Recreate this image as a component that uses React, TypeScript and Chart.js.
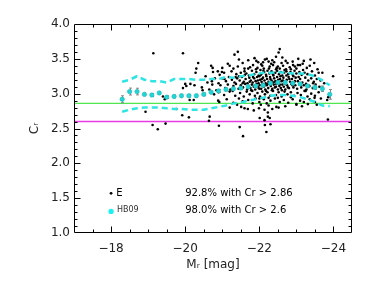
import React, { useEffect, useRef } from 'react';
import { Chart, registerables } from 'chart.js';

Chart.register(...registerables);

// ---- axis ticks ----
const xMajorTicks = [-18, -20, -22, -24];
const yMajorTicks = [1.0, 1.5, 2.0, 2.5, 3.0, 3.5, 4.0];

// ---- reference lines ----
const greenLevel = 2.86;
const magentaLevel = 2.6;

// ---- HB09 median relation (binned) ----
const binMag = [-18.3, -18.5, -18.7, -18.9, -19.1, -19.3, -19.5, -19.7, -19.9, -20.1, -20.3, -20.5, -20.7, -20.9, -21.1, -21.3, -21.5, -21.7, -21.9, -22.1, -22.3, -22.5, -22.7, -22.9, -23.1, -23.3, -23.5, -23.7, -23.9];
const binMedian = [2.92, 3.03, 3.03, 2.99, 2.98, 3.01, 2.95, 2.96, 2.97, 2.97, 2.97, 2.99, 3.02, 3.04, 3.06, 3.07, 3.08, 3.10, 3.11, 3.12, 3.15, 3.16, 3.16, 3.15, 3.14, 3.11, 3.09, 3.07, 2.99];
const binErr = [0.05, 0.05, 0.048, 0.02, 0.02, 0.02, 0.02, 0.02, 0.02, 0.02, 0.02, 0.02, 0.02, 0.02, 0.02, 0.02, 0.02, 0.02, 0.02, 0.02, 0.02, 0.02, 0.02, 0.02, 0.02, 0.02, 0.03, 0.04, 0.07];
const binUpper = [3.17, 3.20, 3.25, 3.20, 3.18, 3.18, 3.16, 3.21, 3.21, 3.21, 3.20, 3.20, 3.21, 3.21, 3.24, 3.23, 3.25, 3.26, 3.28, 3.30, 3.30, 3.31, 3.30, 3.29, 3.29, 3.28, 3.25, 3.19, 3.12];
const binLower = [2.74, 2.77, 2.79, 2.80, 2.80, 2.80, 2.79, 2.78, 2.78, 2.77, 2.77, 2.77, 2.79, 2.81, 2.83, 2.86, 2.87, 2.90, 2.92, 2.94, 2.97, 2.98, 2.98, 2.97, 2.95, 2.92, 2.88, 2.83, 2.82];

// ---- E galaxies [Mr, Cr] ----
const eSparse: [number, number][] = [
  [-18.93, 2.74], [-19.14, 3.58], [-19.12, 2.55], [-19.26, 2.49], [-19.47, 2.57], [-19.40, 2.96], [-19.45, 2.92],
  [-19.76, 2.78], [-19.92, 2.69], [-19.94, 3.58], [-20.10, 2.66], [-20.64, 2.61], [-20.91, 2.54], [-20.66, 2.67],
  [-19.94, 3.08], [-20.00, 3.14], [-20.03, 3.11], [-20.14, 3.14], [-20.12, 2.91], [-20.23, 2.91], [-20.25, 3.12],
  [-20.28, 3.30], [-20.30, 3.36], [-20.35, 3.44], [-20.45, 3.09], [-20.47, 3.05], [-20.50, 2.98],
  [-21.47, 2.52], [-21.56, 2.39], [-22.15, 2.55], [-22.19, 2.45], [-22.28, 2.65], [-22.30, 2.56], [-22.01, 2.65],
  [-22.23, 2.73], [-22.23, 2.67], [-22.14, 2.62], [-23.85, 2.63], [-23.99, 3.25], [-23.83, 2.91], [-23.86, 2.95],
  [-21.33, 3.56], [-21.42, 3.60], [-22.55, 3.64], [-22.52, 3.59],
];
const eTransition: [number, number][] = [
  [-20.55, 3.25], [-20.60, 3.16], [-20.65, 3.06], [-20.70, 3.40], [-20.74, 3.37], [-20.75, 3.31], [-20.72, 3.18],
  [-20.73, 3.13], [-20.78, 2.99], [-20.80, 3.22], [-20.84, 3.05], [-20.88, 3.32], [-20.89, 2.90], [-20.90, 3.15],
  [-20.93, 3.27], [-20.99, 3.31], [-21.00, 3.37], [-21.06, 3.21], [-21.15, 3.43], [-20.92, 2.88],
];
const eCoreHigh: [number, number][] = [
  [-21.45, 3.49], [-21.87, 3.51], [-21.92, 3.47], [-22.15, 3.49], [-22.20, 3.50], [-22.25, 3.46], [-22.40, 3.45],
  [-22.71, 3.47], [-22.76, 3.44], [-23.20, 3.47], [-23.48, 3.44], [-22.32, 3.43], [-21.97, 3.45], [-22.05, 3.42],
  [-22.60, 3.44], [-23.05, 3.50],
  [-21.20, 3.40], [-21.42, 3.39], [-21.60, 3.36], [-21.75, 3.38], [-21.83, 3.41], [-21.95, 3.37], [-22.08, 3.40],
  [-22.12, 3.36], [-22.28, 3.39], [-22.37, 3.41], [-22.50, 3.39], [-22.55, 3.36], [-22.64, 3.40], [-22.82, 3.38],
  [-22.91, 3.41], [-22.96, 3.39], [-23.04, 3.41], [-23.10, 3.41], [-23.17, 3.43], [-23.28, 3.37], [-23.36, 3.40],
  [-23.57, 3.35], [-21.30, 3.36], [-22.45, 3.35], [-22.72, 3.35],
];
const eCoreUpperMid: [number, number][] = [
  [-21.05, 3.30], [-21.25, 3.32], [-21.38, 3.28], [-21.50, 3.30], [-21.60, 3.32], [-21.65, 3.29], [-21.72, 3.26],
  [-21.80, 3.33], [-21.86, 3.28], [-21.92, 3.31], [-21.98, 3.26], [-22.03, 3.34], [-22.07, 3.29], [-22.13, 3.31],
  [-22.18, 3.27], [-22.22, 3.33], [-22.27, 3.29], [-22.33, 3.32], [-22.38, 3.26], [-22.43, 3.30], [-22.48, 3.33],
  [-22.53, 3.28], [-22.58, 3.31], [-22.62, 3.26], [-22.67, 3.30], [-22.73, 3.32], [-22.78, 3.28], [-22.84, 3.31],
  [-22.90, 3.27], [-22.95, 3.33], [-23.00, 3.29], [-23.08, 3.31], [-23.14, 3.27], [-23.22, 3.30], [-23.30, 3.28],
  [-23.42, 3.32], [-23.50, 3.26], [-23.60, 3.30], [-21.45, 3.25], [-22.00, 3.25], [-23.70, 3.30],
];
const eCoreMid: [number, number][] = [
  [-21.00, 3.22], [-21.10, 3.18], [-21.18, 3.24], [-21.26, 3.20], [-21.33, 3.16], [-21.40, 3.22], [-21.47, 3.19],
  [-21.53, 3.24], [-21.58, 3.17], [-21.63, 3.21], [-21.68, 3.15], [-21.73, 3.23], [-21.77, 3.19], [-21.82, 3.16],
  [-21.86, 3.22], [-21.90, 3.18], [-21.94, 3.24], [-21.98, 3.15], [-22.02, 3.20], [-22.06, 3.17], [-22.10, 3.23],
  [-22.14, 3.19], [-22.17, 3.15], [-22.21, 3.21], [-22.25, 3.17], [-22.29, 3.24], [-22.33, 3.19], [-22.36, 3.16],
  [-22.40, 3.22], [-22.44, 3.18], [-22.48, 3.24], [-22.52, 3.16], [-22.56, 3.21], [-22.60, 3.18], [-22.65, 3.23],
  [-22.69, 3.16], [-22.74, 3.20], [-22.79, 3.24], [-22.83, 3.17], [-22.88, 3.21], [-22.93, 3.16], [-22.98, 3.23],
  [-23.04, 3.18], [-23.10, 3.21], [-23.16, 3.16], [-23.24, 3.23], [-23.32, 3.19], [-23.40, 3.22], [-23.47, 3.17],
  [-23.55, 3.21], [-23.65, 3.19], [-23.75, 3.15],
];
const eCoreLowMid: [number, number][] = [
  [-20.95, 3.12], [-21.08, 3.08], [-21.15, 3.13], [-21.22, 3.06], [-21.30, 3.11], [-21.37, 3.14], [-21.44, 3.07],
  [-21.50, 3.12], [-21.56, 3.09], [-21.62, 3.14], [-21.67, 3.06], [-21.71, 3.11], [-21.76, 3.08], [-21.80, 3.13],
  [-21.85, 3.10], [-21.89, 3.06], [-21.93, 3.14], [-21.97, 3.09], [-22.01, 3.12], [-22.05, 3.07], [-22.09, 3.14],
  [-22.12, 3.10], [-22.16, 3.06], [-22.20, 3.12], [-22.24, 3.08], [-22.28, 3.14], [-22.31, 3.11], [-22.35, 3.07],
  [-22.39, 3.13], [-22.42, 3.09], [-22.46, 3.14], [-22.50, 3.06], [-22.54, 3.11], [-22.58, 3.08], [-22.62, 3.13],
  [-22.66, 3.10], [-22.70, 3.06], [-22.75, 3.12], [-22.80, 3.08], [-22.86, 3.14], [-22.92, 3.09], [-22.97, 3.12],
  [-23.02, 3.07], [-23.08, 3.13], [-23.13, 3.09], [-23.20, 3.12], [-23.27, 3.06], [-23.35, 3.11], [-23.44, 3.08],
  [-23.52, 3.13], [-23.62, 3.10],
];
const eCoreLow: [number, number][] = [
  [-20.90, 3.02], [-21.05, 2.98], [-21.20, 3.03], [-21.35, 2.97], [-21.48, 3.01], [-21.58, 2.96], [-21.66, 3.03],
  [-21.74, 2.99], [-21.81, 3.04], [-21.88, 2.97], [-21.95, 3.01], [-22.02, 2.96], [-22.08, 3.03], [-22.15, 2.99],
  [-22.22, 3.02], [-22.30, 2.97], [-22.37, 3.04], [-22.45, 2.98], [-22.52, 3.02], [-22.60, 2.96], [-22.68, 3.03],
  [-22.76, 2.99], [-22.85, 3.02], [-22.94, 2.97], [-23.03, 3.01], [-23.12, 2.98], [-23.22, 3.04], [-23.30, 2.96],
  [-23.40, 3.00], [-23.50, 2.97], [-23.60, 3.02], [-23.66, 2.93],
  [-21.12, 2.92], [-21.30, 2.87], [-21.45, 2.93], [-21.55, 2.89], [-21.70, 2.91], [-21.82, 2.86], [-21.90, 2.93],
  [-22.00, 2.88], [-22.12, 2.92], [-22.20, 2.86], [-22.30, 2.90], [-22.42, 2.93], [-22.55, 2.88], [-22.66, 2.91],
  [-22.78, 2.87], [-22.90, 2.92], [-23.00, 2.85], [-23.10, 2.90], [-23.36, 2.92], [-23.49, 2.94], [-23.31, 2.85],
  [-23.20, 2.88], [-23.50, 2.88], [-23.55, 2.84],
  [-21.60, 2.79], [-21.69, 2.78], [-21.99, 2.79], [-22.04, 2.84], [-22.46, 2.81], [-22.52, 2.80], [-23.00, 2.84],
  [-21.51, 2.81], [-21.20, 2.80], [-22.25, 2.83], [-22.70, 2.82], [-21.85, 2.76], [-22.14, 2.77], [-23.15, 2.82],
  [-21.40, 2.84], [-22.35, 2.78],
];
const eCoreExtra: [number, number][] = [
  [-21.83, 3.24], [-21.88, 3.12], [-21.91, 3.35], [-21.96, 3.19], [-22.00, 3.07], [-22.04, 3.27], [-22.07, 3.21],
  [-22.11, 3.33], [-22.15, 3.12], [-22.18, 3.04], [-22.19, 3.25], [-22.23, 3.14], [-22.26, 3.36], [-22.30, 3.21],
  [-22.34, 3.05], [-22.37, 3.28], [-22.41, 3.17], [-22.45, 3.10], [-22.47, 3.37], [-22.51, 3.20], [-22.55, 3.13],
  [-22.57, 3.25], [-22.61, 3.05], [-22.64, 3.19], [-22.68, 3.34], [-22.71, 3.14], [-22.73, 3.26], [-22.77, 3.09],
  [-22.81, 3.21], [-22.85, 3.35], [-22.89, 3.12], [-22.92, 3.25], [-22.96, 3.18], [-23.00, 3.36], [-23.06, 3.24],
  [-23.12, 3.15], [-23.18, 3.34], [-23.26, 3.14], [-21.70, 3.36], [-21.74, 3.17], [-21.78, 3.05], [-21.61, 3.27],
  [-21.55, 3.15], [-21.36, 3.24], [-21.28, 3.04], [-22.10, 3.45], [-22.35, 3.48], [-22.62, 3.52], [-22.90, 3.46],
  [-22.45, 3.53], [-21.70, 3.48], [-21.55, 3.44], [-23.38, 3.49], [-23.25, 3.04], [-23.45, 3.15], [-22.00, 2.93],
  [-22.50, 2.94], [-22.85, 2.95], [-22.25, 2.94],
];

// ---- in-plot legend / annotations ----
const legendMarkMag = [-18, -18];
const legendMarkCr = [1.57, 1.31];
const legendLabels = ['E', 'HB09'];
const statLines = ['92.8% with Cr > 2.86', '98.0% with Cr > 2.6'];
const statMag = -20.0;
const statCr = [1.57, 1.32];

const toXY = (arr: [number, number][]) => arr.map(([x, y]) => ({ x, y }));

const frameTicks = {
  id: 'frameTicks',
  afterDraw(chart: any) {
    const { ctx, chartArea, scales } = chart;
    const { left, right, top, bottom } = chartArea;
    const xs = scales.x, ys = scales.y;
    ctx.save();
    ctx.strokeStyle = '#000';
    ctx.lineWidth = 1;
    const L = Math.round(left) + 0.5, R = Math.round(right) - 0.5;
    const T = Math.round(top) + 0.5, B = Math.round(bottom) - 0.5;
    ctx.beginPath();
    ctx.rect(L, T, R - L, B - T);
    ctx.stroke();
    ctx.beginPath();
    for (let k = 1; k < 15; k++) {
      const v = -17 - 0.5 * k;
      const px = Math.round(xs.getPixelForValue(v)) + 0.5;
      const major = Math.abs(v / 2 - Math.round(v / 2)) < 1e-6;
      const len = major ? 6 : 3;
      ctx.moveTo(px, B); ctx.lineTo(px, B - len);
      ctx.moveTo(px, T); ctx.lineTo(px, T + len);
    }
    for (let k = 1; k < 30; k++) {
      const v = 1 + 0.1 * k;
      const py = Math.round(ys.getPixelForValue(v)) + 0.5;
      const major = k % 5 === 0;
      const len = major ? 6 : 3;
      ctx.moveTo(L, py); ctx.lineTo(L + len, py);
      ctx.moveTo(R, py); ctx.lineTo(R - len, py);
    }
    ctx.stroke();

    // in-plot legend labels and statistics
    ctx.textBaseline = 'middle';
    ctx.textAlign = 'left';
    ctx.fillStyle = '#000';
    ctx.font = '10px "DejaVu Sans"';
    ctx.fillText(legendLabels[0], xs.getPixelForValue(-18.14), ys.getPixelForValue(legendMarkCr[0]));
    ctx.fillStyle = '#333';
    ctx.font = '8px "DejaVu Sans"';
    ctx.fillText(legendLabels[1], xs.getPixelForValue(-18.16), ys.getPixelForValue(legendMarkCr[1]) - 1);
    ctx.fillStyle = '#000';
    ctx.font = '10px "DejaVu Sans"';
    statLines.forEach((s, i) => {
      ctx.fillText(s, xs.getPixelForValue(statMag), ys.getPixelForValue(statCr[i]));
    });
    ctx.restore();
  },
};

const errorBars = {
  id: 'errorBars',
  beforeDatasetDraw(chart: any, args: any) {
    if (chart.data.datasets[args.index].label !== 'HB09') return;
    const { ctx, scales } = chart;
    ctx.save();
    ctx.strokeStyle = '#8a8a8a';
    ctx.lineWidth = 1;
    ctx.beginPath();
    binMag.forEach((m, i) => {
      const px = Math.round(scales.x.getPixelForValue(m)) + 0.5;
      const y1 = scales.y.getPixelForValue(binMedian[i] + binErr[i]);
      const y2 = scales.y.getPixelForValue(binMedian[i] - binErr[i]);
      ctx.moveTo(px, y1); ctx.lineTo(px, y2);
      ctx.moveTo(px - 1.5, y1); ctx.lineTo(px + 1.5, y1);
      ctx.moveTo(px - 1.5, y2); ctx.lineTo(px + 1.5, y2);
    });
    ctx.stroke();
    ctx.restore();
  },
};

export default function App() {
  const ref = useRef<HTMLCanvasElement | null>(null);
  useEffect(() => {
    if (!ref.current) return;
    const cyan = '#2ee4e4';
    const ePoints = [
      ...toXY(eSparse), ...toXY(eTransition), ...toXY(eCoreHigh), ...toXY(eCoreUpperMid),
      ...toXY(eCoreMid), ...toXY(eCoreLowMid), ...toXY(eCoreLow), ...toXY(eCoreExtra),
    ];
    const chart = new Chart(ref.current, {
      type: 'scatter',
      data: {
        datasets: [
          {
            label: 'legend',
            data: legendMarkMag.map((x, i) => ({ x, y: legendMarkCr[i] })),
            pointRadius: [1.4, 2.6],
            pointBackgroundColor: ['#000', '#19f0f0'],
            pointBorderWidth: 0,
            order: 0,
          } as any,
          {
            label: 'HB09',
            data: binMag.map((x, i) => ({ x, y: binMedian[i] })),
            pointRadius: 2.2,
            pointBackgroundColor: '#22d4d4',
            pointBorderColor: '#1bbaba',
            pointBorderWidth: 0.6,
            order: 1,
          } as any,
          {
            label: 'upper',
            type: 'line',
            data: binMag.map((x, i) => ({ x, y: binUpper[i] })),
            borderColor: cyan,
            borderWidth: 2.5,
            borderDash: [6, 4],
            pointRadius: 0,
            tension: 0,
            order: 2,
          } as any,
          {
            label: 'lower',
            type: 'line',
            data: binMag.map((x, i) => ({ x, y: binLower[i] })),
            borderColor: cyan,
            borderWidth: 2.5,
            borderDash: [6, 4],
            pointRadius: 0,
            tension: 0,
            order: 2,
          } as any,
          {
            label: 'E',
            data: ePoints,
            pointRadius: 1.3,
            pointBackgroundColor: '#000',
            pointBorderWidth: 0,
            order: 3,
          } as any,
          {
            label: 'green',
            type: 'line',
            data: [{ x: -17, y: greenLevel }, { x: -24.5, y: greenLevel }],
            borderColor: '#4fe64f',
            borderWidth: 1.4,
            pointRadius: 0,
            order: 4,
          } as any,
          {
            label: 'magenta',
            type: 'line',
            data: [{ x: -17, y: magentaLevel }, { x: -24.5, y: magentaLevel }],
            borderColor: '#e63ce6',
            borderWidth: 1.4,
            pointRadius: 0,
            order: 4,
          } as any,
        ],
      },
      options: {
        animation: false,
        responsive: false,
        devicePixelRatio: 1,
        layout: { padding: { left: 0, right: 22, top: 24, bottom: 0 } },
        plugins: { legend: { display: false }, tooltip: { enabled: false } },
        scales: {
          x: {
            type: 'linear',
            min: -24.5,
            max: -17,
            reverse: true,
            grid: { display: false, drawTicks: false },
            border: { display: false },
            afterBuildTicks: (s: any) => { s.ticks = xMajorTicks.map((v) => ({ value: v })); },
            afterFit: (s: any) => { s.height = 48; },
            ticks: {
              padding: 9,
              maxRotation: 0,
              color: '#222',
              font: { family: 'DejaVu Sans', size: 12 },
              callback: (v: any) => '\u2212' + Math.abs(Number(v)),
            },
            title: {
              display: true,
              text: 'M\u1D63 [mag]',
              color: '#222',
              font: { family: 'DejaVu Sans', size: 12 },
              padding: { top: 0, bottom: 9 },
            },
          },
          y: {
            type: 'linear',
            min: 1,
            max: 4,
            grid: { display: false, drawTicks: false },
            border: { display: false },
            afterBuildTicks: (s: any) => { s.ticks = yMajorTicks.map((v) => ({ value: v })); },
            afterFit: (s: any) => { s.width = 74; },
            ticks: {
              padding: 4,
              color: '#222',
              font: { family: 'DejaVu Sans', size: 12 },
              callback: (v: any) => Number(v).toFixed(1),
            },
            title: {
              display: true,
              text: 'C\u1D63',
              color: '#222',
              font: { family: 'DejaVu Sans', size: 12 },
              padding: { top: 28, bottom: 0 },
            },
          },
        },
      },
      plugins: [errorBars, frameTicks],
    });
    return () => chart.destroy();
  }, []);
  return (
    <div style={{ position: 'fixed', left: 0, top: 0, width: 374, height: 281, background: '#fff' }}>
      <canvas ref={ref} width={374} height={281} style={{ display: 'block', width: 374, height: 281 }} />
    </div>
  );
}
